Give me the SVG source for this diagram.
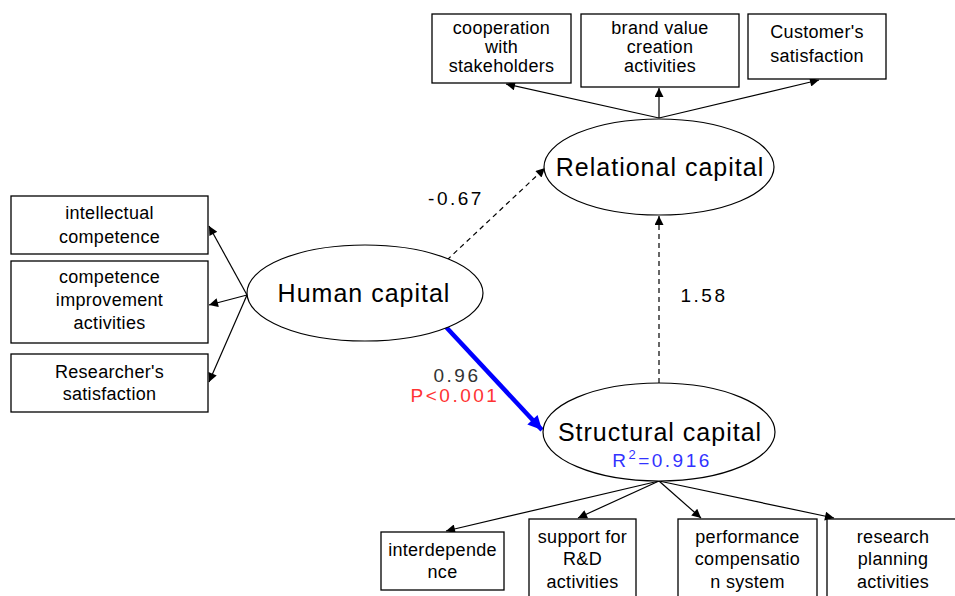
<svg xmlns="http://www.w3.org/2000/svg" width="955" height="596" viewBox="0 0 955 596">
  <style>
    .box { fill: #fff; stroke: #000; stroke-width: 1.3; }
    .lat { fill: #fff; stroke: #000; stroke-width: 1.2; }
    .bt { font-family: "Liberation Sans", Arial, sans-serif; font-size: 18px; letter-spacing: 0.3px; fill: #000; text-anchor: middle; }
    .lt { font-family: "Liberation Sans", Arial, sans-serif; font-size: 25px; letter-spacing: 1px; fill: #000; text-anchor: middle; }
    .num { font-family: "Liberation Sans", Arial, sans-serif; font-size: 19px; letter-spacing: 2.5px; text-anchor: middle; }
    .solid { stroke: #000; stroke-width: 1.2; fill: none; }
    .dash { stroke: #000; stroke-width: 1.2; fill: none; stroke-dasharray: 5 4; }
  </style>
  <defs>
    <marker id="ah" viewBox="0 0 10 10" refX="10" refY="5" markerWidth="11" markerHeight="9" markerUnits="userSpaceOnUse" orient="auto">
      <path d="M0,0 L10,5 L0,10 z" fill="#000"/>
    </marker>
    <marker id="ahb" viewBox="0 0 10 10" refX="10" refY="5" markerWidth="20" markerHeight="14" markerUnits="userSpaceOnUse" orient="auto">
      <path d="M0,0 L10,5 L0,10 z" fill="#0000ff"/>
    </marker>
  </defs>
  <rect width="955" height="596" fill="#fff"/>

  <g id="connectors">
    <!-- relational capital indicators -->
    <line class="solid" x1="659" y1="118" x2="506" y2="84" marker-end="url(#ah)"/>
    <line class="solid" x1="659" y1="118" x2="659" y2="88" marker-end="url(#ah)"/>
    <line class="solid" x1="659" y1="118" x2="819" y2="80" marker-end="url(#ah)"/>
    <!-- human capital indicators -->
    <line class="solid" x1="247" y1="295" x2="209" y2="226" marker-end="url(#ah)"/>
    <line class="solid" x1="247" y1="295" x2="209" y2="305" marker-end="url(#ah)"/>
    <line class="solid" x1="247" y1="295" x2="209" y2="382" marker-end="url(#ah)"/>
    <!-- structural capital indicators -->
    <line class="solid" x1="659" y1="481" x2="446" y2="531" marker-end="url(#ah)"/>
    <line class="solid" x1="659" y1="481" x2="578" y2="518" marker-end="url(#ah)"/>
    <line class="solid" x1="659" y1="481" x2="701" y2="518" marker-end="url(#ah)"/>
    <line class="solid" x1="659" y1="481" x2="834" y2="518" marker-end="url(#ah)"/>
    <!-- structural paths -->
    <line class="dash" x1="447" y1="260" x2="545" y2="168" marker-end="url(#ah)"/>
    <line class="dash" x1="659" y1="383" x2="659" y2="216" marker-end="url(#ah)"/>
    <line x1="446" y1="327" x2="542" y2="430" stroke="#0000ff" stroke-width="4.5" marker-end="url(#ahb)"/>
  </g>

  <g id="cooperation">
    <rect class="box" x="432" y="14" width="139" height="69"/>
    <text class="bt" x="501.5" y="34">cooperation</text>
    <text class="bt" x="501.5" y="53">with</text>
    <text class="bt" x="501.5" y="72">stakeholders</text>
  </g>
  <g id="brand">
    <rect class="box" x="581" y="14" width="158" height="73"/>
    <text class="bt" x="660" y="34">brand value</text>
    <text class="bt" x="660" y="53">creation</text>
    <text class="bt" x="660" y="72">activities</text>
  </g>
  <g id="customer">
    <rect class="box" x="748" y="14" width="138" height="65"/>
    <text class="bt" x="817" y="38">Customer's</text>
    <text class="bt" x="817" y="62">satisfaction</text>
  </g>

  <g id="intellectual">
    <rect class="box" x="11" y="196" width="197" height="58"/>
    <text class="bt" x="109.5" y="219">intellectual</text>
    <text class="bt" x="109.5" y="243">competence</text>
  </g>
  <g id="improvement">
    <rect class="box" x="11" y="261" width="197" height="82"/>
    <text class="bt" x="109.5" y="283">competence</text>
    <text class="bt" x="109.5" y="306">improvement</text>
    <text class="bt" x="109.5" y="329">activities</text>
  </g>
  <g id="researcher">
    <rect class="box" x="11" y="354" width="197" height="58"/>
    <text class="bt" x="109.5" y="378">Researcher's</text>
    <text class="bt" x="109.5" y="400">satisfaction</text>
  </g>

  <g id="interdependence">
    <rect class="box" x="381" y="532" width="123" height="58"/>
    <text class="bt" x="442.5" y="556">interdepende</text>
    <text class="bt" x="442.5" y="578">nce</text>
  </g>
  <g id="support">
    <rect class="box" x="529" y="519" width="107" height="80"/>
    <text class="bt" x="582.5" y="543">support for</text>
    <text class="bt" x="582.5" y="565">R&amp;D</text>
    <text class="bt" x="582.5" y="588">activities</text>
  </g>
  <g id="performance">
    <rect class="box" x="678" y="519" width="139" height="80"/>
    <text class="bt" x="747.5" y="543">performance</text>
    <text class="bt" x="747.5" y="565">compensatio</text>
    <text class="bt" x="747.5" y="588">n system</text>
  </g>
  <g id="planning">
    <rect class="box" x="827" y="519" width="140" height="80"/>
    <text class="bt" x="893" y="543">research</text>
    <text class="bt" x="893" y="565">planning</text>
    <text class="bt" x="893" y="588">activities</text>
  </g>

  <g id="relational">
    <ellipse class="lat" cx="659" cy="167" rx="115" ry="48"/>
    <text class="lt" x="660" y="176">Relational capital</text>
  </g>
  <g id="human">
    <ellipse class="lat" cx="365" cy="293" rx="118" ry="48"/>
    <text class="lt" x="364" y="302">Human capital</text>
  </g>
  <g id="structural">
    <ellipse class="lat" cx="659" cy="432" rx="116" ry="49"/>
    <text class="lt" x="660" y="441">Structural capital</text>
    <text class="num" x="662" y="467" fill="#3333ff">R<tspan font-size="13" dy="-8">2</tspan><tspan dy="8">=0.916</tspan></text>
  </g>

  <g id="labels">
    <text class="num" x="456" y="205" fill="#000">-0.67</text>
    <text class="num" x="704" y="302" fill="#000">1.58</text>
    <text class="num" x="457" y="382" fill="#333">0.96</text>
    <text class="num" x="455" y="402" fill="#ff3333">P&lt;0.001</text>
  </g>
</svg>
